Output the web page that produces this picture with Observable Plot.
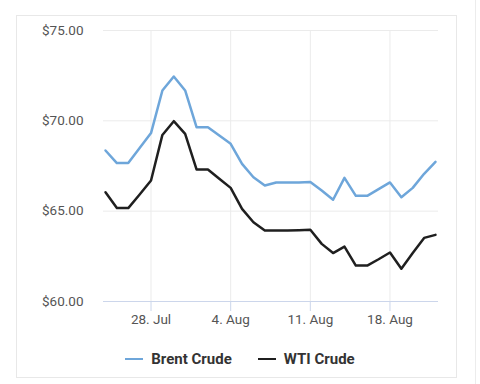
<!DOCTYPE html>
<html>
<head>
<meta charset="utf-8">
<script src="https://cdn.jsdelivr.net/npm/d3@7"></script>
<script src="https://cdn.jsdelivr.net/npm/@observablehq/plot@0.6"></script>
<style>
  html, body { margin: 0; padding: 0; background: #fff; }
  #wrap { position: relative; width: 480px; height: 384px; overflow: hidden; font-family: Roboto, "Noto Sans", sans-serif; }
  #frame { position: absolute; left: 16px; top: 15px; width: 441px; height: 363px; border: 1px solid #e8e8e8; box-sizing: border-box; pointer-events: none; }
  #edge { position: absolute; left: 475px; top: 0; width: 1px; height: 384px; background: #ececec; }
  #chart { position: absolute; left: 0; top: 0; }
  #legend { position: absolute; left: 0; top: 344px; width: 480px; height: 30px; display: flex; justify-content: center; align-items: center; gap: 26px; font-family: Roboto, sans-serif; font-weight: bold; font-size: 15px; color: #333; box-sizing: border-box; }
  .item { display: flex; align-items: center; gap: 8px; }
  .sw { display: inline-block; width: 18px; height: 0; border-top: 2.5px solid; }
</style>
</head>
<body>
<div id="wrap">
  <div id="frame"></div>
  <div id="edge"></div>
  <div id="chart"></div>
  <div id="legend"></div>
</div>
<script>
const dates = [
  "2025-07-24","2025-07-25","2025-07-26","2025-07-27","2025-07-28","2025-07-29","2025-07-30","2025-07-31",
  "2025-08-01","2025-08-02","2025-08-03","2025-08-04","2025-08-05","2025-08-06","2025-08-07","2025-08-08",
  "2025-08-09","2025-08-10","2025-08-11","2025-08-12","2025-08-13","2025-08-14","2025-08-15","2025-08-16",
  "2025-08-17","2025-08-18","2025-08-19","2025-08-20","2025-08-21","2025-08-22"
];
const brent = [68.36,67.66,67.66,68.49,69.32,71.68,72.45,71.68,69.65,69.65,69.19,68.73,67.62,66.88,66.42,66.59,
  66.59,66.59,66.62,66.14,65.63,66.84,65.85,65.85,66.22,66.59,65.77,66.29,67.07,67.73];
const wti = [66.05,65.17,65.17,65.92,66.70,69.22,69.98,69.28,67.31,67.31,66.79,66.29,65.13,64.39,63.93,63.93,
  63.93,63.95,63.97,63.19,62.68,63.04,61.99,61.99,62.34,62.71,61.81,62.69,63.52,63.69];
const seriesNames = ["Brent Crude", "WTI Crude"];
const seriesColors = ["#6ea6da", "#1f1f1f"];
const yTicks = [60, 65, 70, 75];
const xTicks = ["2025-07-28", "2025-08-04", "2025-08-11", "2025-08-18"];

const parse = d3.utcParse("%Y-%m-%d");
const rows = [];
[brent, wti].forEach((vals, s) => {
  vals.forEach((v, i) => rows.push({date: parse(dates[i]), value: v, series: seriesNames[s]}));
});

const chart = Plot.plot({
  width: 480,
  height: 342,
  marginLeft: 103,
  marginRight: 42,
  marginTop: 30,
  marginBottom: 41,
  style: {fontFamily: "Roboto, sans-serif", fontSize: "13.5px", color: "#555", background: "transparent"},
  x: {type: "utc", insetLeft: 2, insetRight: 3, label: null},
  y: {domain: [60, 75], label: null},
  color: {domain: seriesNames, range: seriesColors},
  marks: [
    Plot.gridY(yTicks.slice(1), {stroke: "#ebebeb", strokeOpacity: 1}),
    Plot.gridX(xTicks.map(parse), {stroke: "#ebebeb", strokeOpacity: 1}),
    Plot.ruleY([60], {stroke: "#ccd6eb", strokeWidth: 1}),
    Plot.axisY(yTicks, {tickSize: 0, tickPadding: 20, label: null, tickFormat: d => "$" + d.toFixed(2), fill: "#555"}),
    Plot.axisX(xTicks.map(parse), {tickSize: 10, tickPadding: 3, label: null, stroke: "#ccd6eb", tickFormat: d3.utcFormat("%-d. %b"), fill: "#555"}),
    Plot.lineY(rows, {x: "date", y: "value", stroke: "series", strokeWidth: 2.5, curve: "linear"})
  ]
});
document.getElementById("chart").appendChild(chart);

const legend = document.getElementById("legend");
seriesNames.forEach((n, i) => {
  const it = document.createElement("div");
  it.className = "item";
  const sw = document.createElement("span");
  sw.className = "sw";
  sw.style.borderColor = seriesColors[i];
  const t = document.createElement("span");
  t.textContent = n;
  it.appendChild(sw); it.appendChild(t);
  legend.appendChild(it);
});
</script>
</body>
</html>
